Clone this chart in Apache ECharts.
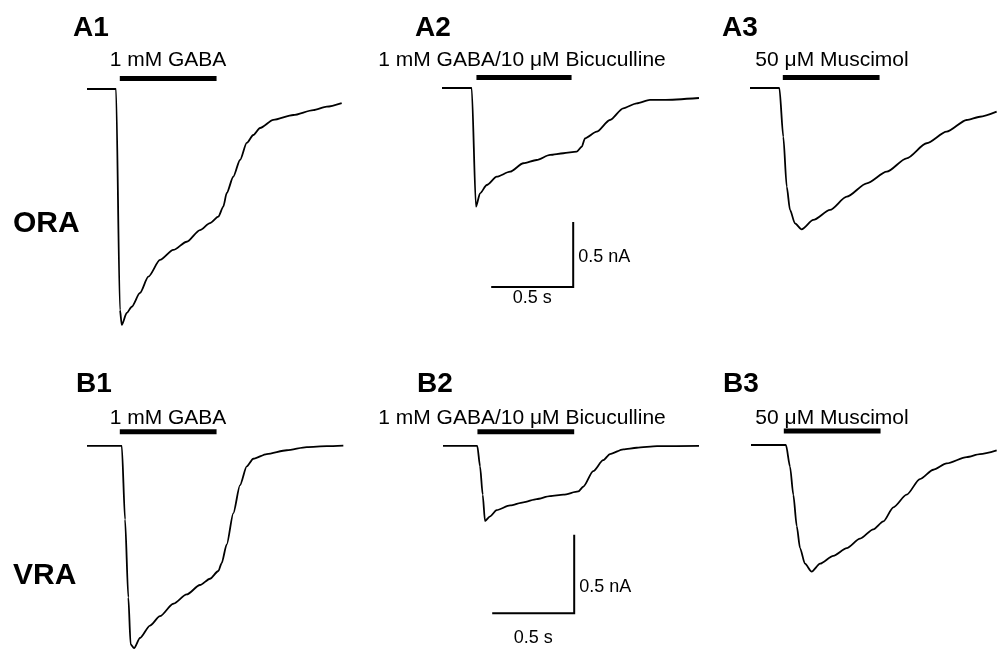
<!DOCTYPE html>
<html>
<head>
<meta charset="utf-8">
<script src="https://cdn.jsdelivr.net/npm/echarts@6/dist/echarts.min.js"></script>
<style>html,body{margin:0;padding:0;background:#fff}#c{width:998px;height:666px}</style>
</head>
<body>
<div id="c"></div>
<script>
// ---- data: time (s) vs current (nA) ----
const traceA1 = [[0,0],[0.177,0],[0.201,-1.70],[0.212,-1.815],[0.242,-1.723],[0.273,-1.675],[0.323,-1.569],[0.374,-1.444],[0.445,-1.315],[0.526,-1.238],[0.608,-1.175],[0.689,-1.085],[0.750,-1.031],[0.801,-0.982],[0.831,-0.905],[0.852,-0.80],[0.892,-0.675],[0.933,-0.546],[0.974,-0.415],[1.014,-0.354],[1.055,-0.30],[1.136,-0.238],[1.258,-0.20],[1.380,-0.162],[1.462,-0.136],[1.553,-0.108]];
const traceA2 = [[0,0],[0.181,0],[0.207,-0.913],[0.232,-0.81],[0.273,-0.746],[0.334,-0.682],[0.415,-0.644],[0.496,-0.579],[0.577,-0.554],[0.659,-0.515],[0.740,-0.502],[0.821,-0.49],[0.852,-0.452],[0.872,-0.387],[0.943,-0.336],[1.024,-0.246],[1.105,-0.156],[1.187,-0.118],[1.268,-0.092],[1.349,-0.092],[1.567,-0.077]];
const traceA3 = [[0,0],[0.179,0],[0.203,-0.375],[0.224,-0.759],[0.244,-0.938],[0.274,-1.041],[0.315,-1.087],[0.386,-1.015],[0.488,-0.938],[0.590,-0.836],[0.712,-0.733],[0.834,-0.644],[0.955,-0.541],[1.077,-0.425],[1.199,-0.336],[1.321,-0.246],[1.402,-0.221],[1.504,-0.182]];
const traceB1 = [[0,0],[0.212,0],[0.232,-0.468],[0.252,-0.964],[0.266,-1.262],[0.287,-1.286],[0.323,-1.222],[0.384,-1.143],[0.445,-1.083],[0.526,-1.004],[0.608,-0.945],[0.689,-0.885],[0.750,-0.845],[0.801,-0.796],[0.821,-0.746],[0.852,-0.627],[0.892,-0.429],[0.933,-0.25],[0.974,-0.131],[1.014,-0.082],[1.096,-0.052],[1.218,-0.028],[1.340,-0.008],[1.462,-0.002],[1.563,0.002]];
const traceB2 = [[0,0],[0.209,0],[0.226,-0.131],[0.242,-0.31],[0.256,-0.478],[0.287,-0.448],[0.327,-0.409],[0.409,-0.379],[0.490,-0.359],[0.571,-0.339],[0.652,-0.32],[0.734,-0.31],[0.825,-0.29],[0.855,-0.26],[0.916,-0.161],[0.977,-0.091],[1.018,-0.052],[1.099,-0.022],[1.181,-0.012],[1.305,-0.002],[1.561,0]];
const traceB3 = [[0,0],[0.213,0],[0.238,-0.137],[0.258,-0.315],[0.279,-0.514],[0.299,-0.653],[0.329,-0.752],[0.370,-0.802],[0.421,-0.752],[0.502,-0.702],[0.584,-0.653],[0.665,-0.593],[0.746,-0.534],[0.807,-0.484],[0.868,-0.395],[0.949,-0.315],[1.030,-0.216],[1.112,-0.157],[1.193,-0.117],[1.315,-0.077],[1.396,-0.058],[1.498,-0.034]];

// drug application periods (s)
const drugA1 = [0.20, 0.79], drugA2 = [0.21, 0.79], drugA3 = [0.20, 0.79];
const drugB1 = [0.20, 0.79], drugB2 = [0.21, 0.80], drugB3 = [0.20, 0.79];

// texts
const panelNames = ['A1','A2','A3','B1','B2','B3'];
const drugNames = ['1 mM GABA','1 mM GABA/10 \u03bcM Bicuculline','50 \u03bcM Muscimol','1 mM GABA','1 mM GABA/10 \u03bcM Bicuculline','50 \u03bcM Muscimol'];
const rowNames = ['ORA','VRA'];
const scaleTime = 0.5;     // s
const scaleCurrent = 0.5;  // nA
const scaleLabels = ['0.5 nA','0.5 s'];

// ---- layout ----
const CW = 998;
const pxPerSec = 164;
const FONT = "'Liberation Sans', Arial, sans-serif";
const rows = [
  {k:130, ymin:-2.0, ymax:0.2, barLvl:0.081, labelY:28, drugY:60, rowY:224, sb:{t0:0.30,y0:-1.53}, sbTextY:[257,298]},
  {k:168, ymin:-1.4, ymax:0.2, barLvl:0.089, labelY:384, drugY:418, rowY:576, sb:{t0:0.30,y0:-1.065}, sbTextY:[587,638]}
];
const panels = [
  {row:0, x0:87,  base:89,  trace:traceA1, drug:drugA1, labelX:73,  drugX:168},
  {row:0, x0:442, base:88,  trace:traceA2, drug:drugA2, labelX:415, drugX:522, scale:true},
  {row:0, x0:750, base:88,  trace:traceA3, drug:drugA3, labelX:722, drugX:832},
  {row:1, x0:87,  base:448, trace:traceB1, drug:drugB1, labelX:76,  drugX:168},
  {row:1, x0:443, base:448, trace:traceB2, drug:drugB2, labelX:417, drugX:522, scale:true},
  {row:1, x0:751, base:447, trace:traceB3, drug:drugB3, labelX:723, drugX:832}
];

const grid = [], xAxis = [], yAxis = [], series = [], graphic = [];
panels.forEach((p, i) => {
  const r = rows[p.row];
  const w = Math.min(1.6*pxPerSec, CW - p.x0);
  grid.push({left:p.x0, top:p.base - r.ymax*r.k, width:w, height:(r.ymax - r.ymin)*r.k, containLabel:false});
  xAxis.push({type:'value', gridIndex:i, min:0, max:w/pxPerSec, show:false});
  yAxis.push({type:'value', gridIndex:i, min:r.ymin, max:r.ymax, show:false});
  series.push({type:'line', xAxisIndex:i, yAxisIndex:i, data:p.trace, showSymbol:false, symbol:'none', clip:false,
    smooth:0.25, smoothMonotone:'x',
    lineStyle:{color:'#000', width:1.8, join:'round'}, animation:false, silent:true});
  series.push({type:'line', xAxisIndex:i, yAxisIndex:i, data:[[p.drug[0], r.barLvl],[p.drug[1], r.barLvl]],
    showSymbol:false, symbol:'none', clip:false, lineStyle:{color:'#000', width:5, cap:'butt'}, animation:false, silent:true});
  if (p.scale) {
    const s = r.sb;
    series.push({type:'line', xAxisIndex:i, yAxisIndex:i,
      data:[[s.t0, s.y0],[s.t0 + scaleTime, s.y0],[s.t0 + scaleTime, s.y0 + scaleCurrent]],
      showSymbol:false, symbol:'none', clip:false, lineStyle:{color:'#000', width:2, cap:'butt', join:'miter'}, animation:false, silent:true});
    const xEnd = p.x0 + (s.t0 + scaleTime)*pxPerSec;
    const xMid = p.x0 + (s.t0 + scaleTime/2)*pxPerSec;
    graphic.push({type:'text', x:xEnd + 5, y:r.sbTextY[0], style:{text:scaleLabels[0], font:'18px ' + FONT, fill:'#000', align:'left', verticalAlign:'middle'}});
    graphic.push({type:'text', x:xMid, y:r.sbTextY[1], style:{text:scaleLabels[1], font:'18px ' + FONT, fill:'#000', align:'center', verticalAlign:'middle'}});
  }
  graphic.push({type:'text', x:p.labelX, y:r.labelY, style:{text:panelNames[i], font:'bold 28px ' + FONT, fill:'#000', align:'left', verticalAlign:'middle'}});
  graphic.push({type:'text', x:p.drugX, y:r.drugY, style:{text:drugNames[i], font:'21px ' + FONT, fill:'#000', align:'center', verticalAlign:'middle'}});
});
rows.forEach((r, j) => {
  graphic.push({type:'text', x:13, y:r.rowY, style:{text:rowNames[j], font:'bold 30px ' + FONT, fill:'#000', align:'left', verticalAlign:'middle'}});
});

const chart = echarts.init(document.getElementById('c'), null, {renderer:'canvas'});
chart.setOption({backgroundColor:'#fff', animation:false, grid, xAxis, yAxis, series, graphic});
</script>
</body>
</html>
